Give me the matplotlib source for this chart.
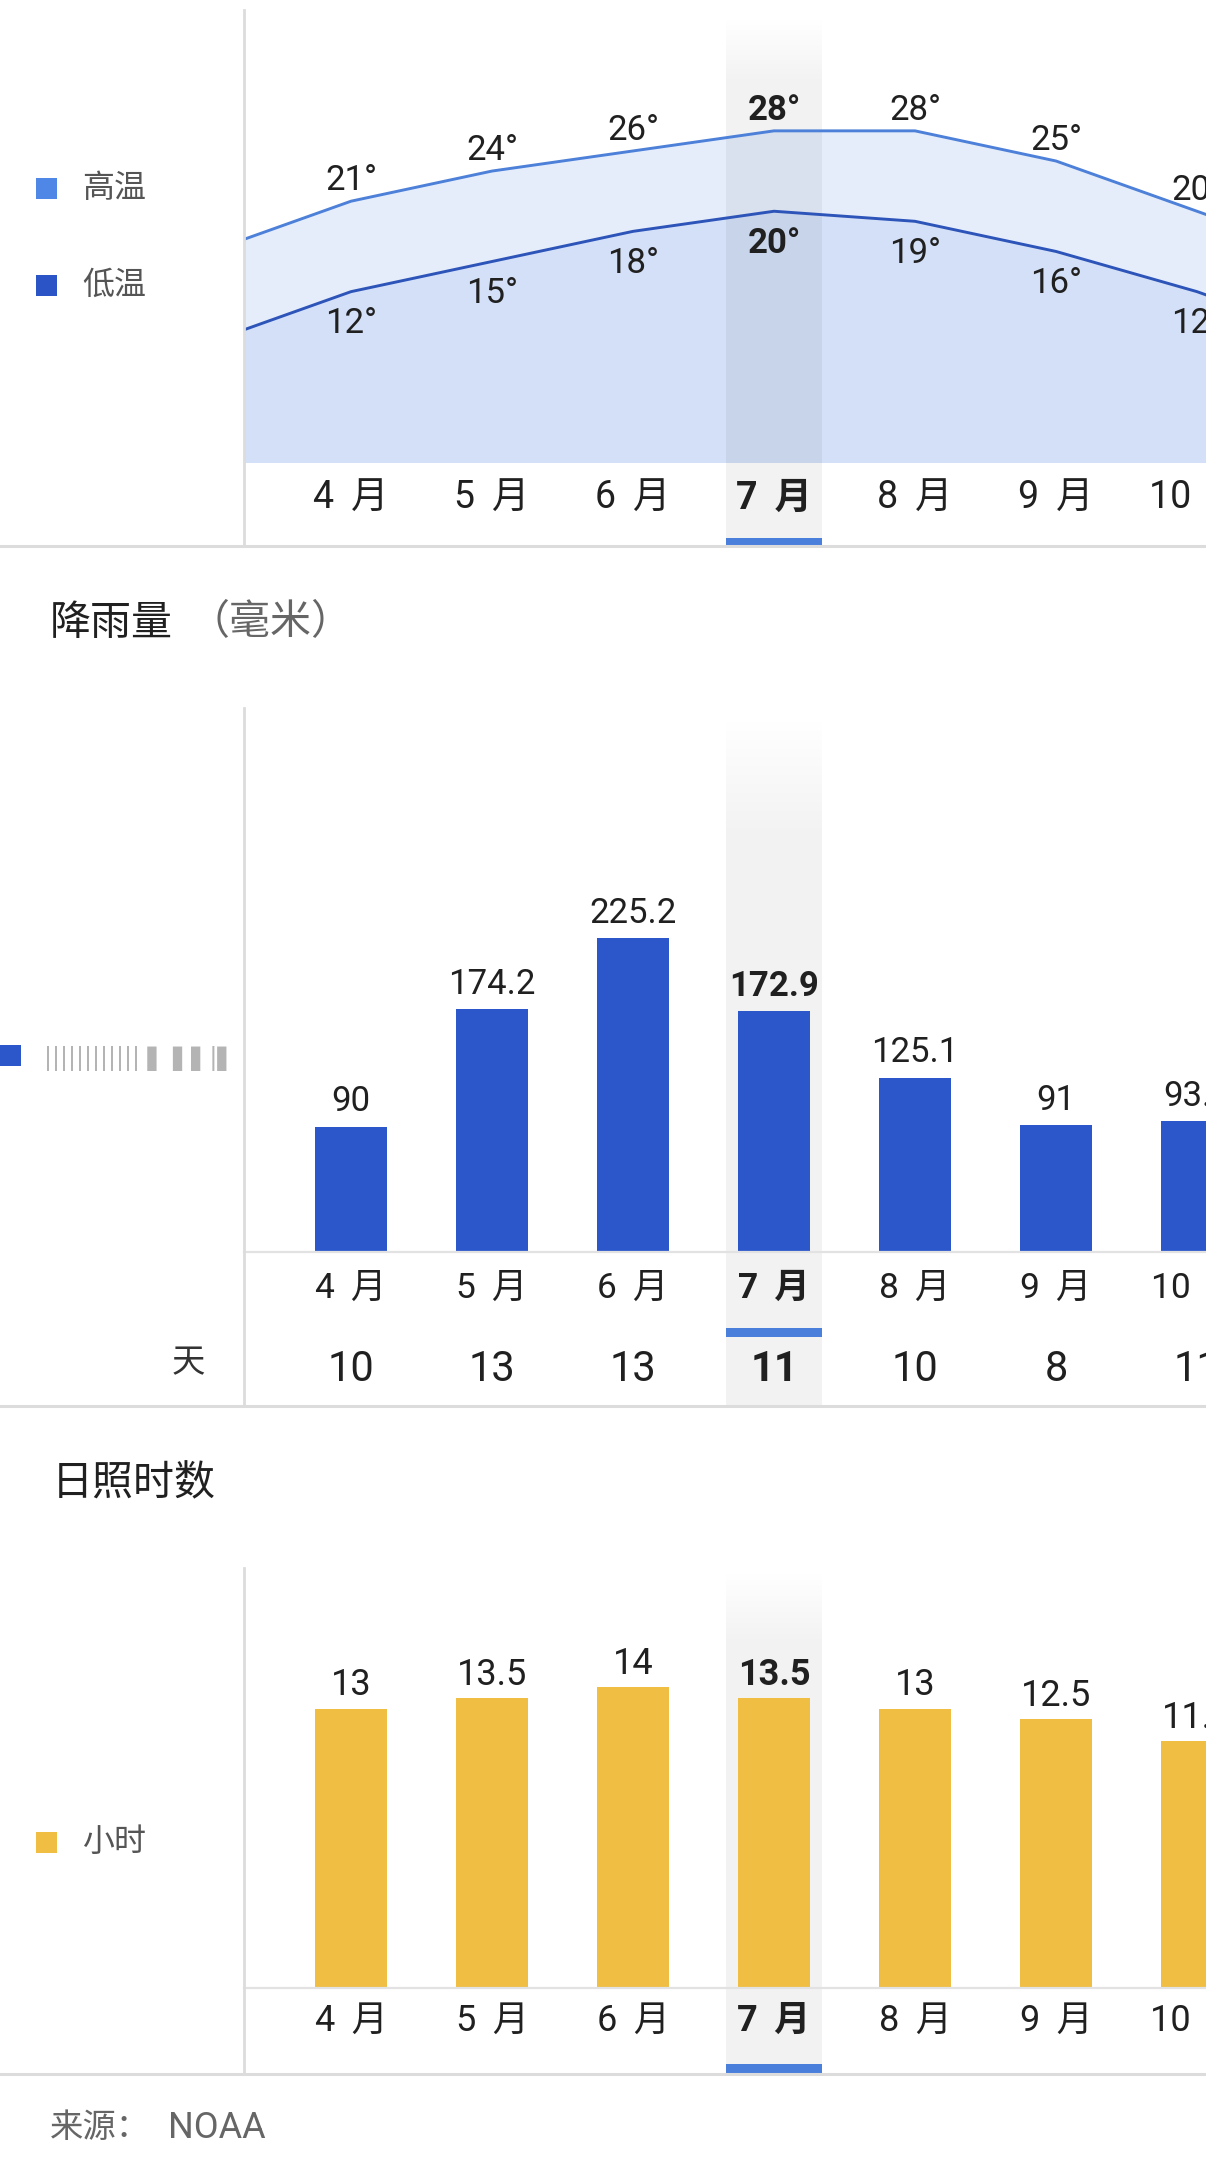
import numpy as np
import matplotlib.pyplot as plt
from matplotlib.patches import Rectangle
from matplotlib.lines import Line2D
from matplotlib.transforms import Affine2D, blended_transform_factory

# data
months = ["4 月", "5 月", "6 月", "7 月", "8 月", "9 月", "10 月"]
temp_high = [16, 21, 24, 26, 28, 28, 25, 20, 15]   # 3月 .. 11月
temp_low = [7, 12, 15, 18, 20, 19, 16, 12, 7]
rain_mm = [90, 174.2, 225.2, 172.9, 125.1, 91, 93.7]
rain_days = [10, 13, 13, 11, 10, 8, 11]
sun_hours = [13, 13.5, 14, 13.5, 13, 12.5, 11.5]
current = 3  # 7 月
TEMP_FLOOR = -5

FONT = ["Roboto", "Noto Sans CJK SC", "DejaVu Sans"]
plt.rcParams["font.family"] = FONT

W, H = 1206, 2175
fig = plt.figure(figsize=(W / 100, H / 100), dpi=100)
fig.patch.set_facecolor("white")
# pixel coords measured from the top-left corner
PX = Affine2D().scale(1 / W, -1 / H).translate(0, 1) + fig.transFigure

X0, STEP = 351, 141
XLIM = ((244 - X0) / STEP, (W - X0) / STEP)
x = np.arange(len(months))
x_temp = np.arange(-1, len(months) + 1)

TXT = "#202020"
GRID = "#dcdcdc"
BLUE_HI = "#4d80d8"
BLUE_LO = "#2d54b8"
BAR_BLUE = "#2b57ca"
YELLOW = "#efbe43"
ACCENT = "#4a7fdb"


def panel(top, bottom, base_px, base_val, scale):
    ax = fig.add_axes([244 / W, 1 - bottom / H, (W - 244) / W, (bottom - top) / H])
    ylim = (base_val - (bottom - base_px) / scale, base_val + (base_px - top) / scale)
    ax.set_xlim(*XLIM)
    ax.set_ylim(*ylim)
    ax.axis("off")
    ax.py = lambda p: base_val + (base_px - p) / scale
    ax.bt = blended_transform_factory(ax.transData, PX)
    return ax


def band(ax, top, full, bottom):
    n = 300
    rows = np.linspace(top, bottom, n)
    img = np.zeros((n, 1, 4))
    img[:, 0, 3] = np.clip((rows - top) / (full - top), 0, 1) * 0.052
    ax.imshow(img, extent=(current - 0.338, current + 0.338, ax.py(bottom), ax.py(top)),
              aspect="auto", interpolation="bilinear", zorder=1.5)
    ax.set_xlim(*XLIM)


def underline(ax, y0, y1):
    ax.add_patch(Rectangle((current - 0.338, y0), 0.676, y1 - y0, transform=ax.bt,
                           facecolor=ACCENT, lw=0, zorder=4))


def month_labels(ax, ybase, size):
    for i, m in enumerate(months):
        ax.text(i, ybase, m.replace(" ", " \u2009"), transform=ax.bt, ha="center",
                va="baseline", fontsize=size, color=TXT,
                fontweight="bold" if i == current else "normal")


def hline(y, x0=0, x1=W, color=GRID, lw=2.2):
    fig.add_artist(Line2D([x0, x1], [y, y], transform=PX, color=color, lw=lw))


def vline(y0, y1):
    fig.add_artist(Line2D([244, 244], [y0, y1], transform=PX, color=GRID, lw=2.0))


def legend_box(y, color, label):
    fig.add_artist(Rectangle((36, y - 10.5), 21, 21, transform=PX, facecolor=color, lw=0))
    fig.text(82 / W, 1 - y / H, label, ha="left", va="center", fontsize=23, color="#555555")


# ---- temperature ----
ax1 = panel(0, 546, 462.5, TEMP_FLOOR, 10.05)
ax1.fill_between(x_temp, temp_high, TEMP_FLOOR, color="#e5edfb", lw=0, zorder=1)
ax1.fill_between(x_temp, temp_low, TEMP_FLOOR, color="#d3e0f7", lw=0, zorder=1.2)
band(ax1, 14, 80, 546)
ax1.plot(x_temp, temp_high, color=BLUE_HI, lw=2.1, zorder=3)
ax1.plot(x_temp, temp_low, color=BLUE_LO, lw=2.1, zorder=3)
for xi, hi, lo in zip(x_temp, temp_high, temp_low):
    if not XLIM[0] < xi < XLIM[1] + 0.3:
        continue
    w = "bold" if xi == current else "normal"
    ax1.annotate(f"{hi}°", (xi, hi), xytext=(0, 8), textcoords="offset points",
                 ha="center", va="baseline", fontsize=25, color=TXT, fontweight=w,
                 annotation_clip=False)
    ax1.annotate(f"{lo}°", (xi, lo), xytext=(0, -30), textcoords="offset points",
                 ha="center", va="baseline", fontsize=25, color=TXT, fontweight=w,
                 annotation_clip=False)
month_labels(ax1, 509, 27)
underline(ax1, 538, 546)
vline(10, 546)
hline(546)
legend_box(188, "#4f87e6", "高温")
legend_box(285, "#2b55c7", "低温")

# ---- rainfall ----
fig.text(50 / W, 1 - 623 / H, "降雨量", ha="left", va="center", fontsize=29.5, color=TXT)
fig.text(188 / W, 1 - 623 / H, "（毫米）", ha="left", va="center", fontsize=29.5, color="#666666")
ax2 = panel(700, 1406, 1252, 0, 1.394)
band(ax2, 712, 830, 1406)
ax2.bar(x, rain_mm, width=0.504, color=BAR_BLUE, zorder=2)
for i, v in enumerate(rain_mm):
    ax2.annotate(f"{v:g}", (i, v), xytext=(0, 11), textcoords="offset points",
                 ha="center", va="baseline", fontsize=25, color=TXT,
                 fontweight="bold" if i == current else "normal", annotation_clip=False)
    ax2.text(i, 1381, str(rain_days[i]), transform=ax2.bt, ha="center", va="baseline",
             fontsize=30, color=TXT, fontweight="bold" if i == current else "normal")
month_labels(ax2, 1298, 25.5)
underline(ax2, 1328, 1337)
hline(1252, 244, W, color="#e2e2e2", lw=1.6)
vline(708, 1406)
hline(1406)
fig.add_artist(Rectangle((0, 1045), 21, 21, transform=PX, facecolor=BAR_BLUE, lw=0))
fig.text(44 / W, 1 - 1058 / H, "|||||||||||| ▌ ▌▌|▌", ha="left", va="center",
         fontsize=17, color="#777777", alpha=0.55, family="DejaVu Sans")
fig.text(188 / W, 1 - 1363 / H, "天", ha="center", va="center", fontsize=24, color="#333333")

# ---- sunshine ----
fig.text(52 / W, 1 - 1484 / H, "日照时数", ha="left", va="center", fontsize=29.5, color=TXT)
ax3 = panel(1560, 2074, 1988, 0, 21.5)
band(ax3, 1568, 1640, 2074)
ax3.bar(x, sun_hours, width=0.504, color=YELLOW, zorder=2)
for i, v in enumerate(sun_hours):
    ax3.annotate(f"{v:g}", (i, v), xytext=(0, 9.5), textcoords="offset points",
                 ha="center", va="baseline", fontsize=26, color=TXT,
                 fontweight="bold" if i == current else "normal", annotation_clip=False)
month_labels(ax3, 2031, 26)
underline(ax3, 2064, 2073)
hline(1988, 244, W, color="#e2e2e2", lw=1.6)
vline(1568, 2074)
hline(2074)
legend_box(1842, YELLOW, "小时")

fig.text(50 / W, 1 - 2128 / H, "来源：", ha="left", va="center", fontsize=24, color="#666666")
fig.text(168 / W, 1 - 2128 / H, "NOAA", ha="left", va="center", fontsize=26, color="#666666")

fig.savefig("out.png", dpi=100, facecolor="white")
